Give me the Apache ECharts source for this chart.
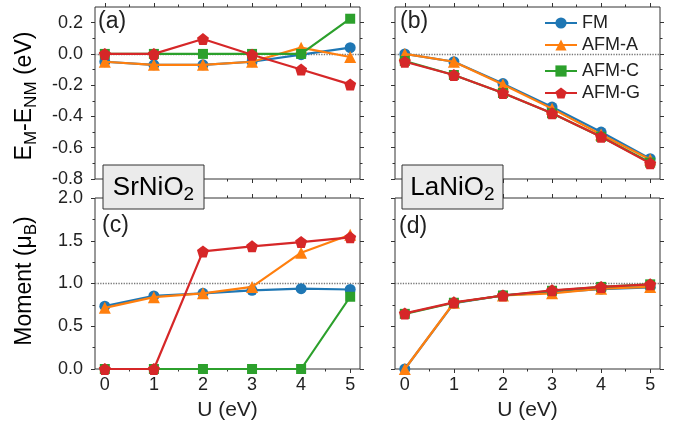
<!DOCTYPE html>
<html>
<head>
<meta charset="utf-8">
<script src="https://cdn.jsdelivr.net/npm/echarts@6/dist/echarts.min.js"></script>
<style>
  html, body { margin: 0; padding: 0; background: #fff; }
  #chart { width: 673px; height: 426px; }
</style>
</head>
<body>
<div id="chart"></div>
<script>
// U values (eV)
const uVals = [0, 1, 2, 3, 4, 5];
const seriesNames = ["FM", "AFM-A", "AFM-C", "AFM-G"];

// (a) SrNiO2: E_M - E_NM (eV)
const srE_FM   = [-0.05, -0.07, -0.07, -0.05, -0.005, 0.04];
const srE_AFMA = [-0.05, -0.07, -0.07, -0.05, 0.04, -0.02];
const srE_AFMC = [0, 0, 0, 0, 0, 0.225];
const srE_AFMG = [0, 0, 0.095, -0.005, -0.10, -0.195];

// (b) LaNiO2: E_M - E_NM (eV)
const laE_FM   = [0, -0.05, -0.19, -0.34, -0.50, -0.67];
const laE_AFMA = [0, -0.05, -0.195, -0.35, -0.515, -0.675];
const laE_AFMC = [-0.045, -0.135, -0.25, -0.38, -0.53, -0.695];
const laE_AFMG = [-0.05, -0.135, -0.25, -0.38, -0.53, -0.70];

// (c) SrNiO2: moment (muB)
const srM_FM   = [0.735, 0.855, 0.885, 0.92, 0.94, 0.93];
const srM_AFMA = [0.715, 0.84, 0.885, 0.96, 1.36, 1.57];
const srM_AFMC = [0, 0, 0, 0, 0, 0.845];
const srM_AFMG = [0, 0, 1.375, 1.435, 1.485, 1.54];

// (d) LaNiO2: moment (muB)
const laM_FM   = [0, 0.77, 0.86, 0.90, 0.935, 0.955];
const laM_AFMA = [0, 0.775, 0.86, 0.885, 0.94, 0.96];
const laM_AFMC = [0.645, 0.775, 0.86, 0.915, 0.96, 0.99];
const laM_AFMG = [0.65, 0.78, 0.86, 0.92, 0.96, 0.99];

// ticks
const xMajor = [0, 1, 2, 3, 4, 5];
const xMinor = [0.5, 1.5, 2.5, 3.5, 4.5];
const eMajor = [-0.8, -0.6, -0.4, -0.2, 0.0, 0.2];
const eMinor = [-0.7, -0.5, -0.3, -0.1, 0.1];
const mMajor = [0, 0.5, 1.0, 1.5, 2.0];
const mMinor = [0.25, 0.75, 1.25, 1.75];

const colors = ["#1f77b4", "#ff7f0e", "#2ca02c", "#d62728"];
const pentagon = "path://M0,-1 L0.951,-0.309 L0.588,0.809 L-0.588,0.809 L-0.951,-0.309 Z";
const symbols = ["circle", "triangle", "rect", pentagon];
const symSizes = [11, 12, 10, 12];
const font = "Liberation Sans, Arial, Helvetica, sans-serif";
const ink = "#333";

const grids = [
    { left: 95, top: 7, width: 265, height: 172 },
    { left: 395, top: 7, width: 265, height: 172 },
    { left: 95, top: 198, width: 265, height: 171 },
    { left: 395, top: 198, width: 265, height: 171 },
];

const xAxes = [];
const yAxes = [];

// builds the 4 axes on one direction of a grid; returns index of main one
function addAxes(list, isX, gridIndex, min, max, majors, minors, showLabels, fmt, name) {
    const sides = isX ? ["bottom", "top"] : ["left", "right"];
    const mainIndex = list.length;
    sides.forEach((pos, si) => {
        [majors, minors].forEach((vals, mi) => {
            const isMain = si === 0 && mi === 0;
            list.push({
                type: "value",
                gridIndex: gridIndex,
                position: pos,
                min: min,
                max: max,
                axisLine: { show: false, onZero: false },
                splitLine: { show: false },
                axisTick: {
                    show: true,
                    customValues: vals,
                    length: mi === 0 ? 4 : 2.5,
                    lineStyle: { color: ink, width: 1 },
                },
                axisLabel: {
                    show: isMain && showLabels,
                    customValues: vals,
                    formatter: fmt,
                    fontFamily: font,
                    fontSize: 18,
                    color: "#222",
                    margin: isX ? 7 : 12,
                },
                name: isMain && name ? name : "",
                nameLocation: "middle",
                nameGap: 31,
                nameTextStyle: { fontFamily: font, fontSize: 21, color: "#222" },
            });
        });
    });
    return mainIndex;
}

const panels = [
    { data: [srE_FM, srE_AFMA, srE_AFMC, srE_AFMG], yMin: -0.8, yMax: 0.3, yMaj: eMajor, yMin2: eMinor, ref: 0, yLab: true, xLab: false },
    { data: [laE_FM, laE_AFMA, laE_AFMC, laE_AFMG], yMin: -0.8, yMax: 0.3, yMaj: eMajor, yMin2: eMinor, ref: 0, yLab: false, xLab: false },
    { data: [srM_FM, srM_AFMA, srM_AFMC, srM_AFMG], yMin: 0, yMax: 2.0, yMaj: mMajor, yMin2: mMinor, ref: 1, yLab: true, xLab: true },
    { data: [laM_FM, laM_AFMA, laM_AFMC, laM_AFMG], yMin: 0, yMax: 2.0, yMaj: mMajor, yMin2: mMinor, ref: 1, yLab: false, xLab: true },
];

const series = [];
panels.forEach((p, gi) => {
    const xi = addAxes(xAxes, true, gi, -0.2, 5.2, xMajor, xMinor, p.xLab, (v) => String(Math.round(v)), p.xLab ? "U (eV)" : "");
    const yi = addAxes(yAxes, false, gi, p.yMin, p.yMax, p.yMaj, p.yMin2, p.yLab, (v) => v.toFixed(1), "");
    p.data.forEach((vals, si) => {
        const s = {
            name: seriesNames[si],
            type: "line",
            xAxisIndex: xi,
            yAxisIndex: yi,
            data: uVals.map((u, k) => [u, vals[k]]),
            symbol: symbols[si],
            symbolSize: symSizes[si],
            showAllSymbol: true,
            color: colors[si],
            lineStyle: { width: 2.2, color: colors[si] },
            itemStyle: { color: colors[si] },
            animation: false,
            z: 3 + si,
        };
        if (si === 0) {
            s.markLine = {
                silent: true,
                symbol: "none",
                label: { show: false },
                lineStyle: { type: "dotted", color: "#777", width: 1.3 },
                data: [{ yAxis: p.ref }],
                z: 1,
            };
        }
        series.push(s);
    });
});

const legendBase = {
    left: 539,
    orient: "vertical",
    itemWidth: 32,
    itemHeight: 14,
    itemGap: 2,
    textStyle: { fontFamily: font, fontSize: 18, color: "#222", lineHeight: 20 },
};

const subRich = (size) => ({
    n: { fontFamily: font, fontSize: size, color: "#222", lineHeight: size + 6 },
    s: { fontFamily: font, fontSize: Math.round(size * 0.74), color: "#222", verticalAlign: "bottom", lineHeight: size * 0.74 },
});

function labelBox(x, y, w, h, main, sub) {
    return [
        {
            type: "rect",
            z: 100,
            shape: { x: x, y: y, width: w, height: h },
            style: { fill: "#ebebeb", stroke: "#333", lineWidth: 1 },
        },
        {
            type: "text",
            z: 101,
            x: x + w / 2,
            y: y + h / 2 + 1,
            style: {
                text: "{n|" + main + "}{s|" + sub + "}",
                align: "center",
                verticalAlign: "middle",
                rich: subRich(26),
            },
        },
    ];
}

function panelTag(x, y, txt) {
    return {
        type: "text",
        z: 100,
        x: x,
        y: y,
        style: { text: txt, fontFamily: font, fontSize: 23, fill: "#222", align: "left", verticalAlign: "middle" },
    };
}

const graphics = [
    {
        type: "text",
        z: 100,
        x: 25,
        y: 96,
        rotation: Math.PI / 2,
        style: {
            text: "{n|E}{s|M}{n|-E}{s|NM}{n| (eV)}",
            align: "center",
            verticalAlign: "middle",
            rich: subRich(23),
        },
    },
    {
        type: "text",
        z: 100,
        x: 25,
        y: 281,
        rotation: Math.PI / 2,
        style: {
            text: "{n|Moment (μ}{s|B}{n|)}",
            align: "center",
            verticalAlign: "middle",
            rich: subRich(23),
        },
    },
    panelTag(98, 22, "(a)"),
    panelTag(400, 22, "(b)"),
    panelTag(102, 226, "(c)"),
    panelTag(399, 227, "(d)"),
    ...labelBox(103, 165, 101, 44, "SrNiO", "2"),
    ...labelBox(402, 165, 101, 44, "LaNiO", "2"),
];

const chart = echarts.init(document.getElementById("chart"));
chart.setOption({
    animation: false,
    backgroundColor: "#fff",
    grid: grids.map((g) => Object.assign({ show: true, borderColor: ink, borderWidth: 1, backgroundColor: "transparent" }, g)),
    xAxis: xAxes,
    yAxis: yAxes,
    legend: [
        Object.assign({ top: 8, data: ["FM", "AFM-A"] }, legendBase),
        Object.assign({ top: 56, data: ["AFM-C", "AFM-G"] }, legendBase),
    ],
    graphic: graphics,
    series: series,
});
</script>
</body>
</html>
